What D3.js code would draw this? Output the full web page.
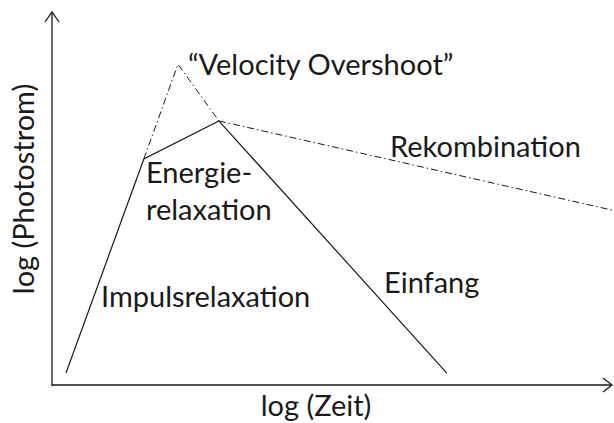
<!DOCTYPE html>
<html>
<head>
<meta charset="utf-8">
<script src="https://cdn.jsdelivr.net/npm/d3@7"></script>
<style>
  html, body { margin: 0; padding: 0; background: #fff; }
  svg { display: block; }
  text { font-family: "Lato", "Open Sans", sans-serif; fill: #1a1a1a; }
</style>
</head>
<body>
<svg id="chart" width="614" height="423"></svg>
<script>
// Schematic photocurrent transient: log(time) vs log(photocurrent), arbitrary units
const measuredT = [0.25, 1.64, 2.98, 7.05];
const measuredI = [0.32, 6.06, 7.08, 0.32];

const overshootT = [1.64, 2.25, 2.98];
const overshootI = [6.06, 8.6, 7.08];

const recombT = [2.98, 10.0];
const recombI = [7.08, 4.69];

const labels = [
  { text: "\u201CVelocity Overshoot\u201D", x: 188, y: 75 },
  { text: "Rekombination", x: 390, y: 157 },
  { text: "Energie-", x: 146, y: 183 },
  { text: "relaxation", x: 146, y: 220 },
  { text: "Impulsrelaxation", x: 101, y: 307 },
  { text: "Einfang", x: 384, y: 293 }
];
const xTitle = "log (Zeit)";
const yTitle = "log (Photostrom)";

const svg = d3.select("#chart");
const x = d3.scaleLinear().domain([0, 10]).range([52, 612]);
const y = d3.scaleLinear().domain([0, 10]).range([385, 12]);

const ink = "#1a1a1a";
const fontSize = 29;

// axes with open arrowheads
svg.append("line").attr("x1", x(0)).attr("y1", y(0) + 1).attr("x2", x(0)).attr("y2", y(10))
  .attr("stroke", ink).attr("stroke-width", 1.3);
svg.append("line").attr("x1", x(0)).attr("y1", y(0)).attr("x2", x(10)).attr("y2", y(0))
  .attr("stroke", ink).attr("stroke-width", 1.3);
svg.append("path")
  .attr("d", `M${x(0) - 7},${y(10) + 10} L${x(0)},${y(10)} L${x(0) + 7},${y(10) + 10}`)
  .attr("fill", "none").attr("stroke", ink).attr("stroke-width", 1.3);
svg.append("path")
  .attr("d", `M${x(10) - 9},${y(0) - 7} L${x(10)},${y(0)} L${x(10) - 9},${y(0) + 7}`)
  .attr("fill", "none").attr("stroke", ink).attr("stroke-width", 1.3);

const line = d3.line().x(d => x(d[0])).y(d => y(d[1]));

svg.append("path")
  .datum(d3.zip(measuredT, measuredI))
  .attr("d", line).attr("fill", "none").attr("stroke", ink).attr("stroke-width", 1.2);

svg.append("path")
  .datum(d3.zip(overshootT, overshootI))
  .attr("d", line).attr("fill", "none").attr("stroke", ink).attr("stroke-width", 1)
  .attr("stroke-dasharray", "7,3,1.5,3");

svg.append("path")
  .datum(d3.zip(recombT, recombI))
  .attr("d", line).attr("fill", "none").attr("stroke", ink).attr("stroke-width", 1)
  .attr("stroke-dasharray", "7,3,1.5,3");

svg.selectAll("text.lbl").data(labels).join("text")
  .attr("class", "lbl")
  .attr("x", d => d.x).attr("y", d => d.y)
  .attr("font-size", fontSize)
  .text(d => d.text);

svg.append("text")
  .attr("x", 316).attr("y", 416)
  .attr("text-anchor", "middle").attr("font-size", fontSize)
  .text(xTitle);

svg.append("text")
  .attr("transform", "translate(34,189) rotate(-90)")
  .attr("text-anchor", "middle").attr("font-size", fontSize)
  .text(yTitle);
</script>
</body>
</html>
